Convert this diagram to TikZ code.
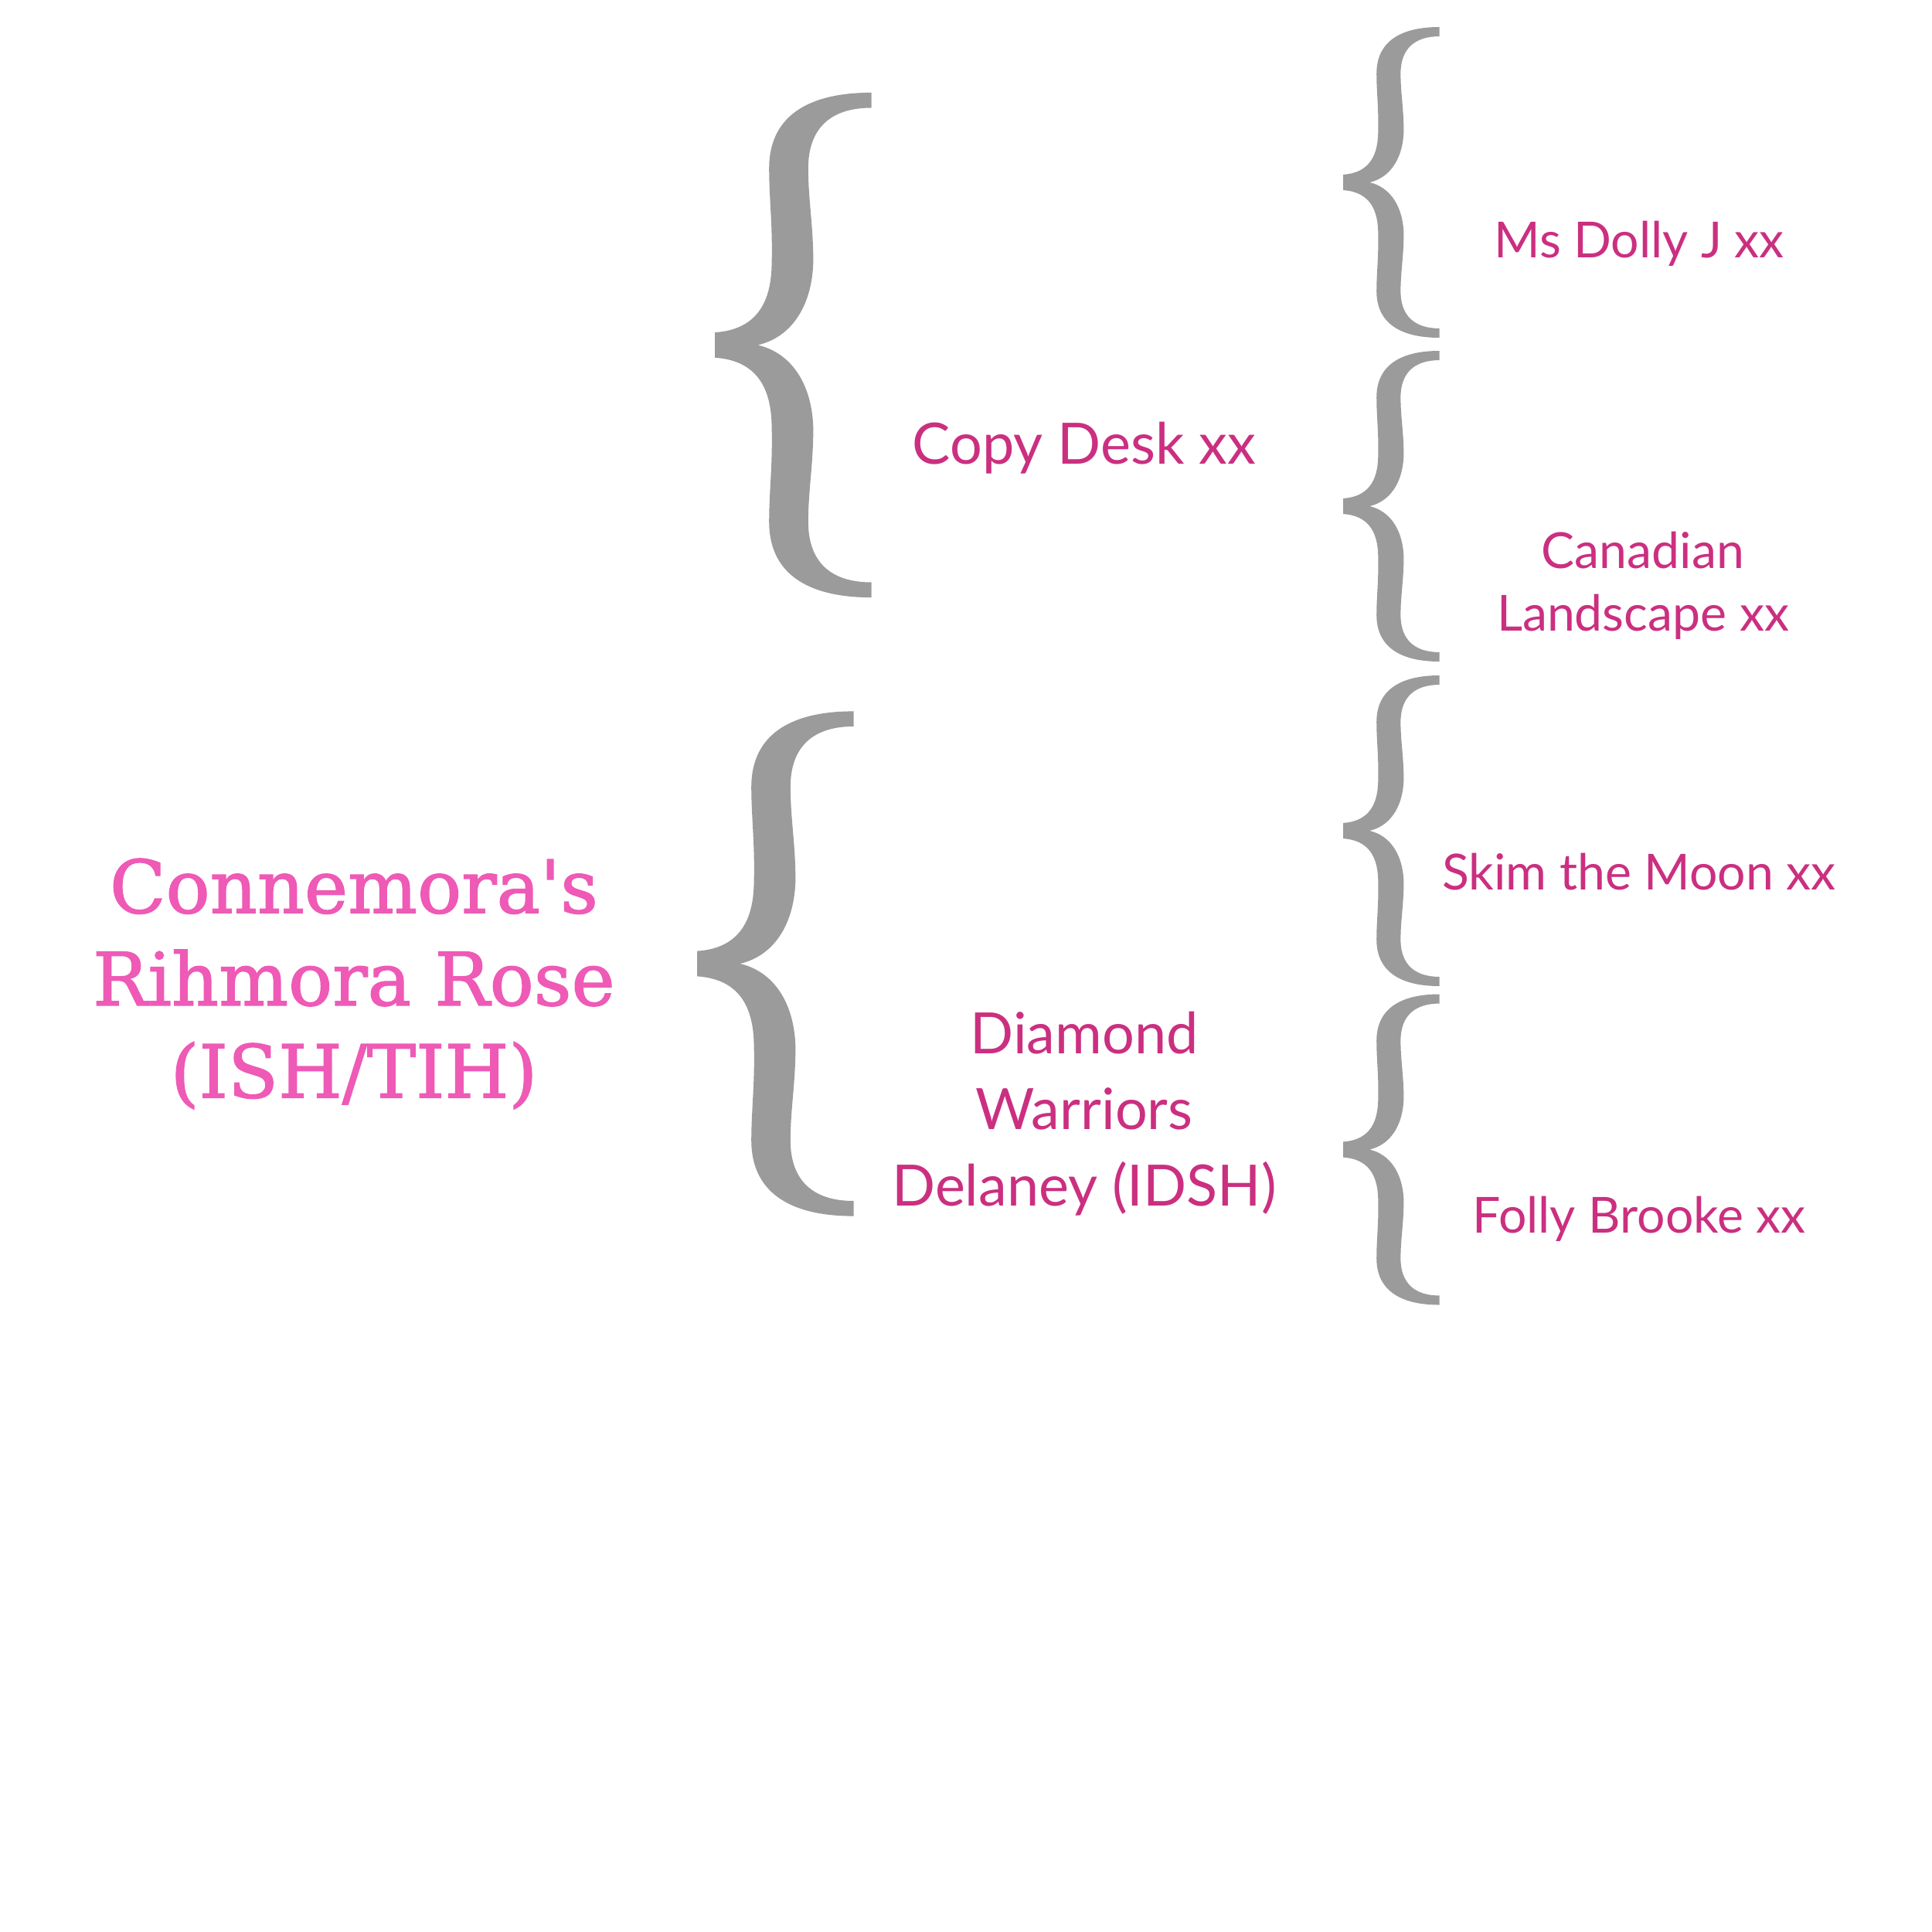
\documentclass[tikz,border=0pt]{standalone}
\usepackage{fontspec}
\usepackage{tikz}
\newfontfamily\slabfont[FakeBold=1.5]{DejaVu Serif}
\newfontfamily\namefont{Lato}
\definecolor{Rose}{HTML}{EE5AB6}
\definecolor{Dam}{HTML}{CB2F80}
\definecolor{BraceGray}{HTML}{9B9B9B}
% curly brace glyph, tip at (#1,#2), scaled by #3
\newcommand{\famBrace}[3]{%
  \fill[BraceGray,shift={(#1,#2)},scale=#3]
    (0,0.10) .. controls (0.30,0.12) and (0.44,0.30) .. (0.45,0.62)
    .. controls (0.46,0.95) and (0.43,1.15) .. (0.43,1.40)
    .. controls (0.43,1.80) and (0.72,2.0) .. (1.24,2.0)
    -- (1.24,1.88)
    .. controls (0.92,1.88) and (0.74,1.72) .. (0.74,1.40)
    .. controls (0.74,1.15) and (0.78,0.95) .. (0.78,0.66)
    .. controls (0.77,0.30) and (0.60,0.06) .. (0.34,0)
    .. controls (0.60,-0.06) and (0.77,-0.30) .. (0.78,-0.66)
    .. controls (0.78,-0.95) and (0.74,-1.15) .. (0.74,-1.40)
    .. controls (0.74,-1.72) and (0.92,-1.88) .. (1.24,-1.88)
    -- (1.24,-2.0)
    .. controls (0.72,-2.0) and (0.43,-1.80) .. (0.43,-1.40)
    .. controls (0.43,-1.15) and (0.46,-0.95) .. (0.45,-0.62)
    .. controls (0.44,-0.30) and (0.30,-0.12) .. (0,-0.10)
    -- cycle;}
\tikzset{
  horse/.style={align=center,inner sep=0pt},
  gen1/.style={horse,font=\slabfont\fontsize{27}{34}\selectfont},
  gen2/.style={horse,font=\namefont\fontsize{21}{28}\selectfont},
  gen3/.style={horse,font=\namefont\fontsize{18.3}{23}\selectfont},
  sire/.style={text=white},
  dam/.style={text=Dam}
}
\begin{document}
\begin{tikzpicture}
  \fill[white] (0,0) rectangle (25,-25);
  \useasboundingbox (0,0) rectangle (25,-25);
  % the mare
  \node[gen1,text=Rose] (rose) at (4.58,-12.73) {Connemora's\\Rihmora Rose\\(ISH/TIH)};
  \node[gen1,sire] (copycat) at (4.90,-4.23) {Copy Cat\\Creek xx};
  % parents
  \famBrace{9.25}{-4.465}{1.633}
  \famBrace{9.02}{-12.47}{1.633}
  \node[gen2,sire] (yellow) at (14.03,-2.19) {Yellow Creek xx};
  \node[gen2,dam] (desk) at (14.03,-5.80) {Copy Desk xx};
  \node[gen2,sire] (harvest) at (14.03,-11.12) {Harvest Moon\\xx};
  \node[gen2,dam] (delaney) at (14.03,-14.41) {Diamond\\Warriors\\Delaney (IDSH)};
  % grandparents
  \famBrace{17.38}{-2.36}{1.005}
  \famBrace{17.38}{-6.55}{1.005}
  \famBrace{17.38}{-10.75}{1.005}
  \famBrace{17.38}{-14.875}{1.005}
  \node[gen3,sire] (irish) at (20.86,-1.32) {Irish Tower xx};
  \node[gen3,dam] (dolly) at (21.21,-3.15) {Ms Dolly J xx};
  \node[gen3,sire] (avies) at (21.08,-5.33) {Avies Copy xx};
  \node[gen3,dam] (canadian) at (21.26,-7.58) {Canadian\\Landscape xx};
  \node[gen3,sire] (absolut) at (20.92,-9.75) {Absolut xx};
  \node[gen3,dam] (skim) at (21.21,-11.28) {Skim the Moon xx};
  \node[gen3,sire] (bridgeford) at (21.32,-14.14) {Bridgeford Diamond\\Warrior (ID)};
  \node[gen3,dam] (folly) at (21.21,-15.77) {Folly Brooke xx};
\end{tikzpicture}
\end{document}
